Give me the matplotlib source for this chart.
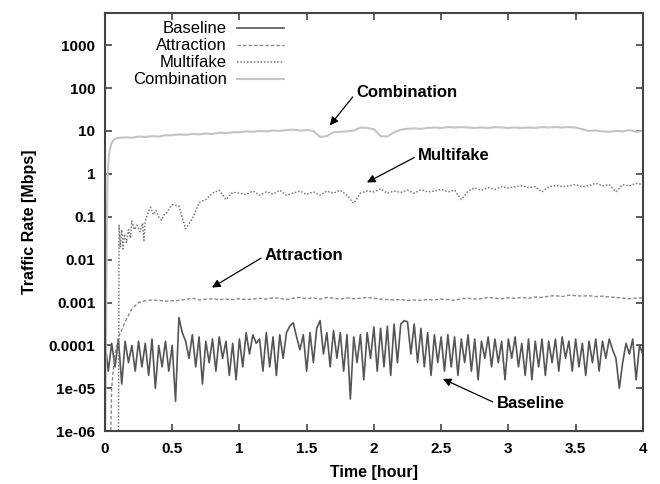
import numpy as np
import matplotlib
matplotlib.use("Agg")
import matplotlib.pyplot as plt
from matplotlib.ticker import FixedLocator, FixedFormatter

plt.rcParams['font.family'] = ['Liberation Sans', 'DejaVu Sans']

# ---- data (log10 of traffic rate in Mbps) ----
base_t = np.linspace(0, 4, 161)
base_log = [
    -3.9, -4.6, -3.95, -4.5, -3.85, -4.9, -3.9, -4.4, -4.0, -4.6,
    -3.9, -4.5, -3.95, -4.7, -3.85, -5.0, -4.0, -4.5, -3.9, -4.6,
    -4.0, -5.3, -3.35, -3.7, -3.9, -4.3, -3.75, -4.5, -3.8, -4.9,
    -3.9, -4.4, -3.85, -4.6, -3.8, -4.3, -3.9, -4.7, -3.95, -4.8,
    -3.85, -4.5, -3.7, -4.2, -3.75, -3.95, -3.85, -4.6, -3.7, -4.5,
    -3.8, -4.7, -3.75, -4.3, -3.7, -3.55, -3.47, -3.8, -4.1, -3.75,
    -4.6, -3.7, -4.4, -3.6, -3.42, -4.2, -3.7, -4.5, -3.65, -4.3,
    -3.7, -4.6, -3.75, -5.25, -3.8, -4.4, -3.75, -4.8, -3.7, -4.3,
    -3.57, -4.6, -3.6, -4.5, -3.55, -4.7, -3.5, -4.4, -3.5, -3.42,
    -3.45, -4.2, -3.5, -4.4, -3.6, -4.5, -3.7, -4.7, -3.75, -4.4,
    -3.8, -4.6, -3.75, -4.5, -3.8, -4.7, -3.85, -4.4, -3.75, -4.6,
    -3.85, -4.8, -3.9, -4.3, -3.8, -4.5, -3.85, -4.4, -3.9, -4.8,
    -3.85, -4.3, -3.8, -4.5, -3.95, -4.7, -3.85, -4.8, -3.9, -4.5,
    -3.85, -4.7, -3.9, -4.4, -3.85, -4.6, -3.8, -4.3, -3.9, -4.6,
    -3.85, -4.5, -3.95, -4.7, -3.9, -4.4, -3.85, -4.6, -3.9, -4.3,
    -3.85, -4.1, -4.3, -5.0, -4.4, -3.95, -4.2, -3.85, -4.8, -4.0,
    -4.2,
]

attr_t = np.concatenate([[0.04, 0.05, 0.07, 0.10, 0.13, 0.15, 0.20, 0.25],
                         np.linspace(0.3, 4.0, 75)])
attr_log = [
    -6.5, -5.0, -4.3, -3.8, -3.6, -3.45, -3.15, -3.0,
    -2.96, -2.94, -2.95, -2.97, -2.96, -2.95, -2.93, -2.9, -2.94, -2.92,
    -2.91, -2.93, -2.92, -2.93, -2.91,
    -2.93, -2.92, -2.9, -2.92, -2.89, -2.9, -2.93, -2.9, -2.88, -2.91,
    -2.89, -2.92, -2.88, -2.9, -2.92, -2.89, -2.91, -2.9, -2.88, -2.9,
    -2.92, -2.93, -2.94, -2.93, -2.95, -2.94, -2.95, -2.93, -2.94, -2.92,
    -2.93, -2.95, -2.91, -2.9, -2.92, -2.91, -2.88, -2.9, -2.91, -2.89,
    -2.9, -2.88, -2.9, -2.87, -2.88, -2.85, -2.84, -2.86, -2.83, -2.84,
    -2.85, -2.84, -2.86, -2.85, -2.87, -2.88, -2.9, -2.91, -2.9, -2.89,
]

multi_t = np.concatenate([[0.100, 0.105, 0.115, 0.125, 0.135, 0.145, 0.16, 0.175,
                           0.19, 0.20, 0.22, 0.24, 0.26, 0.28, 0.29, 0.30, 0.32,
                           0.34, 0.36, 0.38, 0.40, 0.42, 0.44, 0.46, 0.48],
                          np.linspace(0.5, 4.0, 71)])
multi_log = [
    -7.0, -1.2, -1.7, -1.3, -1.75, -1.4, -1.6, -1.3, -1.5, -1.1, -1.3, -1.2,
    -1.35, -1.15, -1.55, -1.1, -0.9, -0.78, -0.95, -0.85, -1.0, -1.08, -0.95,
    -0.9, -0.8,
    -0.72, -0.75, -1.28, -1.05, -0.67, -0.6, -0.45, -0.38, -0.6, -0.43, -0.45,
    -0.48, -0.4, -0.5, -0.42, -0.47, -0.38, -0.5, -0.45, -0.4, -0.48,
    -0.42, -0.5, -0.4, -0.45, -0.38, -0.5, -0.69, -0.45, -0.4, -0.42,
    -0.35, -0.45, -0.4, -0.43, -0.38, -0.45, -0.37, -0.42, -0.4, -0.36,
    -0.42, -0.38, -0.6, -0.4, -0.33, -0.38, -0.32, -0.36, -0.3, -0.33,
    -0.3, -0.28, -0.32, -0.3, -0.42, -0.3, -0.27, -0.3, -0.28, -0.25,
    -0.3, -0.27, -0.22, -0.28, -0.25, -0.42, -0.25, -0.28, -0.22, -0.25,
]

comb_t = np.concatenate([[0.0, 0.01, 0.015, 0.02, 0.03, 0.045, 0.06, 0.08],
                         np.linspace(0.1, 4.0, 79)])
comb_log = [
    -6.5, -3.0, -1.0, 0.0, 0.45, 0.68, 0.78, 0.82,
    0.84, 0.85, 0.84, 0.87, 0.86, 0.88, 0.87, 0.9, 0.9, 0.92,
    0.91, 0.93, 0.92, 0.94, 0.93, 0.96, 0.95, 0.97, 0.97,
    0.99, 0.98, 1.0, 0.99, 1.01, 1.0, 1.02, 1.03, 1.01, 1.02,
    1.0, 0.86, 0.88, 0.97, 0.98, 0.99, 1.01, 1.08, 1.07, 1.04,
    0.88, 0.87, 0.97, 1.03, 1.05, 1.06, 1.05, 1.07, 1.08, 1.07,
    1.09, 1.08, 1.09, 1.08, 1.07, 1.08, 1.07, 1.09, 1.08, 1.07,
    1.08, 1.07, 1.08, 1.07, 1.09, 1.08, 1.09, 1.08, 1.09, 1.08,
    1.04, 1.0, 1.01, 0.99, 0.98, 1.0, 0.99, 1.02, 0.98, 1.0,
]

ytick_vals = [1e-6, 1e-5, 1e-4, 1e-3, 1e-2, 1e-1, 1, 10, 100, 1000]
ytick_labels = ["1e-06", "1e-05", "0.0001", "0.001", "0.01", "0.1",
                "1", "10", "100", "1000"]
xtick_vals = [0, 0.5, 1, 1.5, 2, 2.5, 3, 3.5, 4]
xtick_labels = ["0", "0.5", "1", "1.5", "2", "2.5", "3", "3.5", "4"]

# ---- figure ----
fig = plt.figure(figsize=(6.6, 4.84), dpi=100)
ax = fig.add_axes([0.159, 0.109, 0.815, 0.864])

ax.plot(base_t, 10 ** np.array(base_log), color='#555555', lw=1.2, label='Baseline')
ax.plot(attr_t, 10 ** np.array(attr_log), color='#8a8a8a', lw=1.0,
        dashes=(2.5, 1.5), label='Attraction')
ax.plot(multi_t, 10 ** np.array(multi_log), color='#7a7a7a', lw=1.1,
        dashes=(1, 1.2), label='Multifake')
ax.plot(comb_t, 10 ** np.array(comb_log), color='#c4c4c4', lw=1.5, label='Combination')

ax.set_yscale('log')
ax.set_xlim(0, 4)
ax.set_ylim(1e-6, 5600)
ax.yaxis.set_major_locator(FixedLocator(ytick_vals))
ax.yaxis.set_major_formatter(FixedFormatter(ytick_labels))
ax.yaxis.set_minor_locator(FixedLocator([]))
ax.set_xticks(xtick_vals)
ax.set_xticklabels(xtick_labels)

ax.tick_params(which='both', direction='in', top=True, right=True, length=5,
               width=1.2, color='#444444', labelsize=11)
ax.tick_params(axis='y', pad=7)
ax.tick_params(axis='x', pad=8)
for lab in ax.get_xticklabels() + ax.get_yticklabels():
    lab.set_fontweight('bold')
for sp in ax.spines.values():
    sp.set_color('#444444')
    sp.set_linewidth(1.5)

ax.set_xlabel('Time [hour]', fontsize=11.5, fontweight='bold', labelpad=6)
ax.set_ylabel('Traffic Rate [Mbps]', fontsize=11.5, fontweight='bold', labelpad=8)

leg = ax.legend(loc='upper left', markerfirst=False, frameon=False, fontsize=12,
                handlelength=2.8, handletextpad=0.6, labelspacing=0.12,
                borderaxespad=0.1, bbox_to_anchor=(0.037, 1.0))

arrow = dict(arrowstyle='-|>', color='black', lw=0.9, mutation_scale=12,
             relpos=(0, 0.5), shrinkA=1, shrinkB=0)
notes = [
    ('Combination', (1.673, 10 ** 1.13), (1.87, 10 ** 1.90)),
    ('Multifake', (1.948, 10 ** -0.20), (2.33, 10 ** 0.43)),
    ('Attraction', (0.796, 10 ** -2.65), (1.19, 10 ** -1.91)),
    ('Baseline', (2.513, 10 ** -4.78), (2.914, 10 ** -5.36)),
]
for name, tip, txt in notes:
    ax.annotate(name, xy=tip, xytext=txt, ha='left', va='center',
                fontsize=12, fontweight='bold', arrowprops=arrow)

fig.savefig('out.png', dpi=100)
